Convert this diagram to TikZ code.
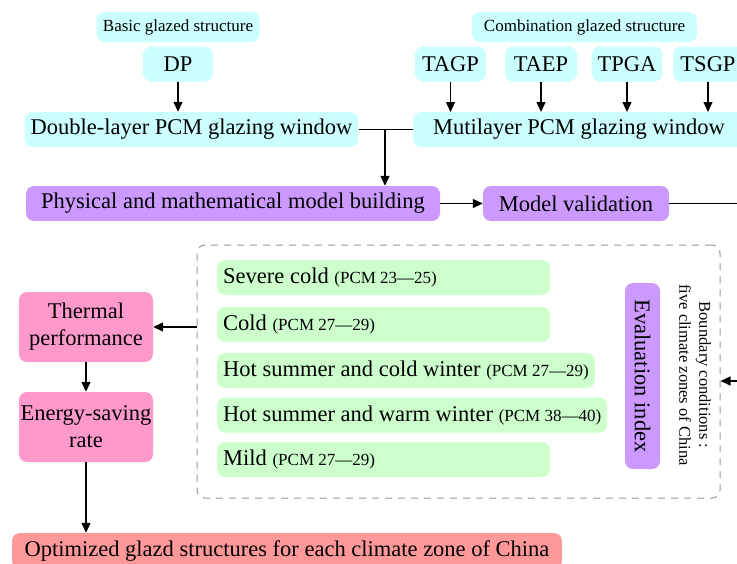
\documentclass[tikz,border=0pt]{standalone}
\usepackage{fontspec}
\setmainfont{Liberation Serif}
\definecolor{GlazeCyan}{RGB}{204,255,255}
\definecolor{ModelPurple}{RGB}{204,153,255}
\definecolor{PerfPink}{RGB}{255,153,204}
\definecolor{ZoneGreen}{RGB}{204,255,204}
\definecolor{ResultRed}{RGB}{255,153,153}
\usetikzlibrary{arrows.meta,calc}
\newcommand{\pcm}{\fontsize{17}{20}\selectfont}

\begin{document}
\begin{tikzpicture}[x=1pt,y=-1pt,
  glaze/.style={fill=GlazeCyan,rounded corners=8pt,minimum height=35pt,inner xsep=6pt,inner ysep=0pt,font=\fontsize{22.5}{27}\selectfont},
  groupbox/.style={glaze,minimum height=30pt,font=\pcm},
  model/.style={glaze,fill=ModelPurple},
  perf/.style={glaze,fill=PerfPink,minimum width=134pt,minimum height=70pt,inner xsep=0pt,align=center},
  zone/.style={glaze,fill=ZoneGreen,anchor=west,align=flush left},
  arr/.style={-{Triangle[length=10pt,width=9pt]},line width=1.3pt},
  link/.style={line width=1.3pt}]
  \useasboundingbox (0,0) rectangle (737,563);
  \clip (0,0) rectangle (737,563);
  \node[groupbox,minimum width=163pt] (basic) at (178,27) {Basic glazed structure};
  \node[glaze,minimum width=70pt] (dp) at (178,64) {DP};
  \node[glaze,minimum width=331pt] (double) at (191.5,129.5) {Double-layer PCM glazing window};
  \node[groupbox,minimum width=225pt] (comb) at (584.5,27) {Combination glazed structure};
  \foreach \name/\x/\w in {TAGP/450.5/71,TAEP/541/72,TPGA/627/70,TSGP/708/70} {
    \node[glaze,minimum width=\w pt] (\name) at (\x,64) {\name};
    \draw[arr] (\name) -- (\x,112);
  }
  \node[glaze,minimum width=332pt] (multi) at (579,129.5) {Mutilayer PCM glazing window};
  \node[model,minimum width=414pt] (phys) at (233,203.5) {Physical and mathematical model building};
  \node[model,minimum width=186pt] (valid) at (576,203.5) {Model validation};
  \node[draw=gray!80,line width=1pt,dash pattern=on 7pt off 6pt,rounded corners=8pt,minimum width=523pt,minimum height=253pt] (zones) at (458.5,371.5) {};
  \node[zone,text width=321pt] (severe) at (217,277.5) {Severe cold {\pcm (PCM 23—25)}};
  \node[zone,text width=321pt] (cold) at (217,324.5) {Cold {\pcm (PCM 27—29)}};
  \node[zone] (hscw) at (217,370.5) {Hot summer and cold winter {\pcm (PCM 27—29)}};
  \node[zone] (hsww) at (217,415) {Hot summer and warm winter {\pcm (PCM 38—40)}};
  \node[zone,text width=321pt] (mild) at (217,459.5) {Mild {\pcm (PCM 27—29)}};
  \node[model,rotate=-90,minimum width=186pt] (eval) at (642.5,376) {Evaluation index};
  \node[rotate=-90,align=center,font=\fontsize{16.5}{20}\selectfont] (bound) at (695,375) {Boundary conditions :\\five climate zones of China};
  \node[perf] (thermal) at (86,327) {Thermal\\performance};
  \node[perf] (saving) at (86,427) {Energy-saving\\rate};
  \node[glaze,fill=ResultRed,minimum width=550pt,minimum height=36pt] (optim) at (287,551) {Optimized glazd structures for each climate zone of China};
  \coordinate (split) at (385,129.5);
  \coordinate (turn) at (752,381);
  \draw[arr] (dp) -- (dp |- double.north);
  \draw[link] (double) -- (multi);
  \draw[arr] (split) -- (split |- phys.north);
  \draw[arr] (phys) -- (valid);
  \draw[arr] (valid) -| (turn) -- (turn -| zones.east);
  \draw[arr] (zones.west |- thermal) -- (thermal);
  \draw[arr] (thermal) -- (saving);
  \draw[arr] (saving) -- (saving |- optim.north);
\end{tikzpicture}
\end{document}
